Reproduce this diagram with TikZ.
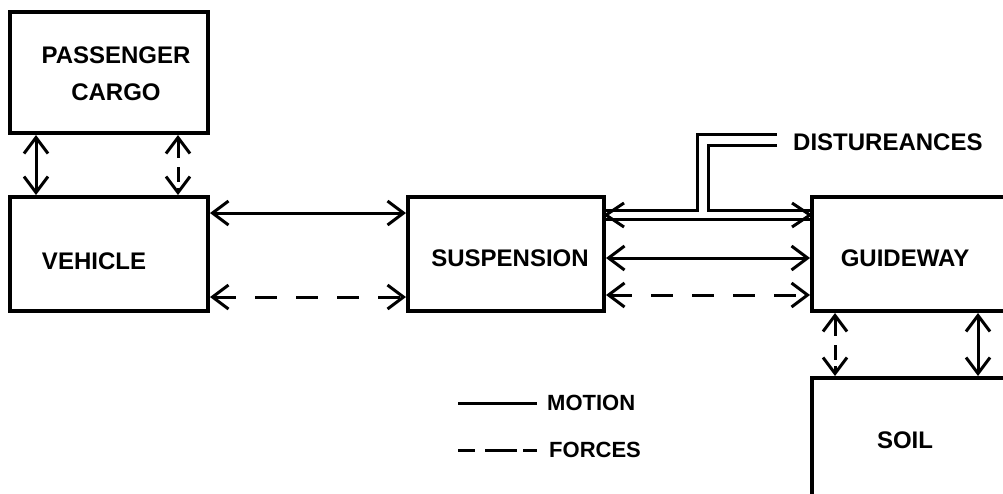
\documentclass[tikz,border=0pt]{standalone}
\usepackage{fontspec}
\setmainfont{Liberation Sans}
\usetikzlibrary{arrows.meta}
\begin{document}
\begin{tikzpicture}[x=1pt,y=-1pt,
  box/.style={draw, line width=4pt, rectangle, inner sep=0pt, minimum width=198pt, minimum height=114pt},
  lbl/.style={font=\bfseries\fontsize{24}{37}\selectfont, inner sep=0pt},
  leg/.style={font=\bfseries\fontsize{22}{26}\selectfont, inner sep=0pt},
  conn/.style={line width=3pt, {Straight Barb[length=16pt,width=24pt]}-{Straight Barb[length=16pt,width=24pt]}},
  frc/.style={conn, dash pattern=on 22pt off 19pt},
  vfrc/.style={conn, dash pattern=on 19pt off 9pt on 15pt off 6pt on 40pt},
  pipe/.style={line width=3pt, line join=miter}]
\useasboundingbox (0,0) rectangle (1003,493);
\clip (0,0) rectangle (1003,493);

% boxes
\node[box, minimum height=121pt] (pc) at (109,72.5) {};
\node[lbl, align=center] (pct) at (116,74) {PASSENGER\\CARGO};
\node[box] (veh) at (109,254) {};
\node[lbl] (veht) at (94,261) {VEHICLE};
\node[box, minimum width=196pt] (susp) at (506,254) {};
\node[lbl] (suspt) at (510,258) {SUSPENSION};
\node[box, minimum width=210pt] (guide) at (917,254) {};
\node[lbl] (guidet) at (905,258) {GUIDEWAY};
\node[box, minimum width=210pt, minimum height=150pt] (soil) at (917,453) {};
\node[lbl] (soilt) at (905,440) {SOIL};

% passenger - vehicle
\draw[conn] ([xshift=28pt]pc.south west) -- ([xshift=28pt]pc.south west |- veh.north);
\draw[vfrc] ([xshift=170pt]pc.south west) -- ([xshift=170pt]pc.south west |- veh.north);

% vehicle - suspension
\draw[conn] ([yshift=-18pt]veh.north east) -- ([yshift=-18pt]veh.north east -| susp.west);
\draw[frc] ([yshift=16pt]veh.south east) -- ([yshift=16pt]veh.south east -| susp.west);

% suspension - guideway
\coordinate (d1) at (777,134);
\coordinate (d2) at (777,145);
\node[lbl, anchor=west] (dist) at (793,142) {DISTUREANCES};
\coordinate (ua) at ([yshift=-15pt]susp.north east);
\coordinate (la) at ([yshift=-24pt]susp.north east);
\coordinate (ta) at ([yshift=-20pt]susp.north east);
\coordinate (tb) at (ta -| guide.west);
\draw[pipe] (ua) -| (697,134) -- (d1);
\draw[pipe] (d2) -| (708,0 |- ua) -- (ua -| guide.west);
\draw[pipe] (la) -- (la -| guide.west);
\draw[pipe] ([shift={(18pt,12pt)}]ta) -- (ta) -- ([shift={(18pt,-12pt)}]ta);
\draw[pipe] ([shift={(-18pt,12pt)}]tb) -- (tb) -- ([shift={(-18pt,-12pt)}]tb);
\draw[conn] ([yshift=-4pt]susp.east) -- ([yshift=-4pt]susp.east -| guide.west);
\draw[frc] ([yshift=18pt]susp.south east) -- ([yshift=18pt]susp.south east -| guide.west);

% guideway - soil
\draw[vfrc] ([xshift=25pt]guide.south west) -- ([xshift=25pt]guide.south west |- soil.north);
\draw[conn] ([xshift=168pt]guide.south west) -- ([xshift=168pt]guide.south west |- soil.north);

% legend
\coordinate (m1) at (458,403);
\coordinate (m2) at (537,403);
\coordinate (f1) at (458,450);
\coordinate (f2) at (537,450);
\draw[line width=3pt] (m1) -- (m2);
\node[leg, anchor=west] (mt) at (547,403) {MOTION};
\draw[line width=3pt, dash pattern=on 17pt off 10pt on 32pt off 6pt on 14pt off 10pt] (f1) -- (f2);
\node[leg, anchor=west] (ft) at (549,450) {FORCES};
\end{tikzpicture}
\end{document}
